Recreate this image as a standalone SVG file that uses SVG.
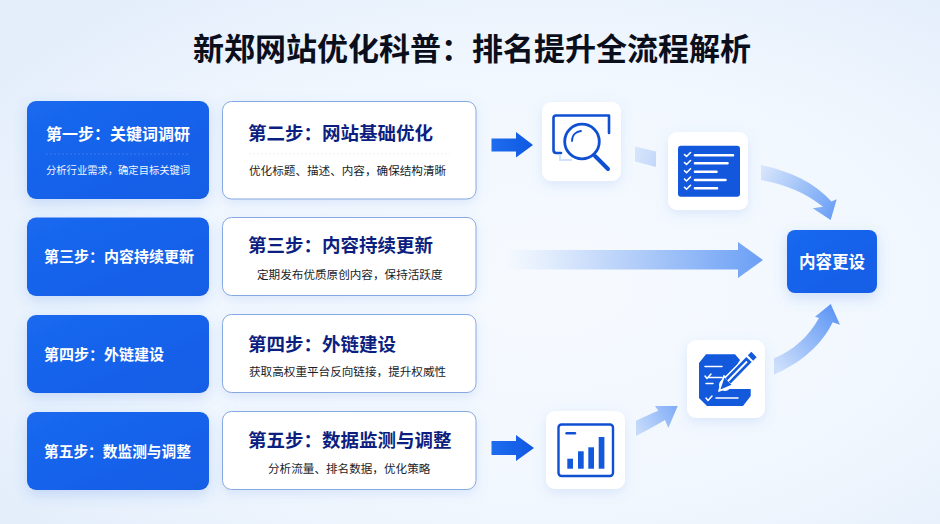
<svg xmlns="http://www.w3.org/2000/svg" width="940" height="524" viewBox="0 0 940 524">
<style>
text{font-family:"Noto Sans CJK SC","Noto Sans",sans-serif}
.title{font-size:31px;font-weight:700;fill:#0b0f1c}
.bt{font-weight:700;fill:#fff}
.bs{font-size:10.3px;fill:#f2f6ff}
.wt{font-size:18.5px;font-weight:700;fill:#0c1f80}
.ws{font-size:11.6px;fill:#1a1d28}
.blue{fill:url(#cardBlue);filter:url(#shBlue)}
.white{fill:#fff;stroke:#86a9e2;stroke-width:1;filter:url(#shSoft)}
.tile{fill:#fff;filter:url(#shSoft)}
.div{stroke-width:.7;stroke-dasharray:2 2;fill:none}
.ic{fill:none;stroke:#0f50d2;stroke-linecap:round;stroke-linejoin:round}
.wl{fill:none;stroke:#fff;stroke-linecap:round;stroke-linejoin:round}
</style>
<defs>
<radialGradient id="bg" cx="58%" cy="55%" r="70%"><stop offset="0" stop-color="#f6faff"/><stop offset=".6" stop-color="#f1f7fe"/><stop offset="1" stop-color="#e4eefb"/></radialGradient>
<linearGradient id="cardBlue" x1="0" y1="0" x2="1" y2="1"><stop offset="0" stop-color="#1a68ef"/><stop offset="1" stop-color="#145de6"/></linearGradient>
<linearGradient id="solid" x1="0" x2="1" y1="0" y2="0"><stop offset="0" stop-color="#1e6cf0"/><stop offset="1" stop-color="#0f59e0"/></linearGradient>
<linearGradient id="band" gradientUnits="userSpaceOnUse" x1="505" y1="260" x2="763" y2="260"><stop offset="0" stop-color="#d4e4fb" stop-opacity="0"/><stop offset=".3" stop-color="#cfe0fb"/><stop offset="1" stop-color="#6b9ff5"/></linearGradient>
<linearGradient id="g1" gradientUnits="userSpaceOnUse" x1="635" y1="155" x2="656" y2="160"><stop offset="0" stop-color="#d6e5fb"/><stop offset="1" stop-color="#c4d9fa"/></linearGradient>
<linearGradient id="g2" gradientUnits="userSpaceOnUse" x1="761" y1="172" x2="835" y2="215"><stop offset="0" stop-color="#d6e5fb"/><stop offset="1" stop-color="#6a9ff6"/></linearGradient>
<linearGradient id="g3" gradientUnits="userSpaceOnUse" x1="636" y1="428" x2="678" y2="406"><stop offset="0" stop-color="#c6dbfa"/><stop offset="1" stop-color="#7eabf7"/></linearGradient>
<linearGradient id="g4" gradientUnits="userSpaceOnUse" x1="774" y1="366" x2="835" y2="310"><stop offset="0" stop-color="#cfe0fb"/><stop offset="1" stop-color="#5f97f5"/></linearGradient>
<filter id="shBlue" x="-20%" y="-30%" width="140%" height="170%"><feDropShadow dx="0" dy="5" stdDeviation="7" flood-color="#3f7fe8" flood-opacity=".22"/></filter>
<filter id="shSoft" x="-20%" y="-30%" width="140%" height="170%"><feDropShadow dx="0" dy="4" stdDeviation="6" flood-color="#5f92e6" flood-opacity=".17"/></filter>
</defs>
<rect width="940" height="524" fill="url(#bg)"/>
<text id="title" class="title" x="193" y="59.5">新郑网站优化科普&#xFF1A;排名提升全流程解析</text>

<g id="connectors">
<polygon fill="url(#solid)" points="491.5,138.5 516,138.5 516,132 533,145 516,157.5 516,151.5 491.5,151.5"/>
<polygon fill="url(#solid)" points="491.5,441 516,441 516,435 534,448 516,461 516,455 491.5,455"/>
<polygon fill="url(#band)" points="505,250 738,250 738,242 763,260 738,278 738,269.500 505,269.500"/>
<polygon fill="url(#g1)" points="635,146.500 656,151.500 656,167 635,161.500"/>
<path fill="url(#g2)" d="M761 165C790 171 815 183 831.500 201.500L836.700 199.300L830.700 220L812.700 208.300L823 206.700C806 193 785 184 761 180Z"/>
<path fill="url(#g3)" d="M636 420.700C644 417 651 413.500 658.300 410.700L655 406L677.700 406L668.300 428L665 420C656 425 646 431 636 436Z"/>
<path fill="url(#g4)" d="M774 358.300C794 350 809 336 819 318L815 316.700L830.700 304L840 324.700L832.700 322.300C820 348 798 364 774 374.700Z"/>
</g>

<g id="step1-left"><rect class="blue" x="27" y="101" width="182" height="98" rx="9"/>
<text class="bt" font-size="16" x="46" y="139.500">第一步&#xFF1A;关键词调研</text>
<path class="div" stroke="#4d87f2" d="M46 154H190"/>
<text class="bs" x="46" y="174">分析行业需求&#xFF0C;确定目标关键词</text></g>
<g id="step2-card"><rect class="white" x="222.500" y="101.500" width="253.500" height="97.500" rx="9"/>
<text class="wt" x="248" y="139.500">第二步&#xFF1A;网站基础优化</text>
<path class="div" stroke="#e8eaef" d="M249 154H450"/>
<text class="ws" x="249" y="174.500">优化标题、描述、内容&#xFF0C;确保结构清晰</text></g>

<g id="step3-left"><rect class="blue" x="27" y="217.500" width="182" height="78.500" rx="9"/>
<text class="bt" font-size="15" x="44" y="262">第三步&#xFF1A;内容持续更新</text></g>
<g id="step3-card"><rect class="white" x="222.500" y="217.500" width="253.500" height="78" rx="9"/>
<text class="wt" x="248" y="252">第三步&#xFF1A;内容持续更新</text>
<text class="ws" x="257" y="278.500">定期发布优质原创内容&#xFF0C;保持活跃度</text></g>

<g id="step4-left"><rect class="blue" x="27" y="315" width="182" height="78" rx="9"/>
<text class="bt" font-size="15" x="44" y="359.500">第四步&#xFF1A;外链建设</text></g>
<g id="step4-card"><rect class="white" x="222.500" y="314.500" width="253.500" height="78" rx="9"/>
<text class="wt" x="248" y="350.500">第四步&#xFF1A;外链建设</text>
<text class="ws" x="249" y="376">获取高权重平台反向链接&#xFF0C;提升权威性</text></g>

<g id="step5-left"><rect class="blue" x="27" y="412" width="182" height="78" rx="9"/>
<text class="bt" font-size="14.700" x="44" y="456.500">第五步&#xFF1A;数监测与调整</text></g>
<g id="step5-card"><rect class="white" x="222.500" y="411.500" width="253.500" height="78" rx="9"/>
<text class="wt" x="248" y="447">第五步&#xFF1A;数据监测与调整</text>
<text class="ws" x="268" y="472.500">分析流量、排名数据&#xFF0C;优化策略</text></g>

<g id="icon-search"><rect class="tile" x="542" y="102" width="79" height="79" rx="9"/>
<path class="ic" stroke-width="2.600" d="M609 133V115.500H556Q553.500 115.500 553.500 118V150Q553.500 153 556.500 153H561"/>
<path fill="none" stroke="#d3e2fa" stroke-width="2" d="M560 155V160H572"/>
<circle cx="582" cy="141.500" r="17.300" fill="#fff" stroke="#0f50d2" stroke-width="2.800"/>
<path class="ic" stroke-width="1.800" d="M572 141C572 135 576 131.500 581 131"/>
<path class="ic" stroke-width="4" d="M595 156L608 169"/></g>

<g id="icon-list"><rect class="tile" x="668" y="132" width="80" height="78" rx="9"/>
<rect x="678" y="145.700" width="62" height="51" rx="3" fill="#1257dc"/>
<g class="wl" stroke-width="2.600"><path d="M695 155.300H733M695 163.300H727.500M695 171.700H716.500M695 180H725.500M695 188.300H717"/></g>
<g class="wl" stroke-width="1.600"><path d="M684.500 154.500L686.500 156.500L690.500 152.500M684.500 162.500L686.500 164.500L690.500 160.500M684.500 170.700L686.500 172.700L690.500 168.700M684.500 179L686.500 181L690.500 177M684.500 187.300L686.500 189.300L690.500 185.300"/></g></g>

<g id="output"><rect class="blue" x="787" y="230" width="90" height="63" rx="8"/>
<text class="bt" font-size="16.500" x="799" y="267.500">内容更设</text></g>

<g id="icon-chart"><rect class="tile" x="546" y="411" width="79" height="78" rx="9"/>
<rect x="558.500" y="424.500" width="54.500" height="51.500" rx="3" fill="none" stroke="#0f50d2" stroke-width="2.400"/>
<path class="ic" stroke-width="2.400" d="M566.500 433.300H575"/>
<g fill="#1259dc"><rect x="567.300" y="458.700" width="5.700" height="10"/><rect x="578" y="451.300" width="5.700" height="17.400"/><rect x="588.300" y="447.300" width="5.700" height="21.400"/><rect x="598.700" y="437" width="5.700" height="31.700"/></g></g>

<g id="icon-edit"><rect class="tile" x="687" y="340" width="78" height="78" rx="9"/>
<path fill="#1259dc" d="M706 354.300H735L740 360L722 389H750.700V396L743 406H707L699 398V363Z"/>
<g class="wl" stroke-width="1.500"><path d="M705 366.500H722M709 377.500H722M706 383.500H713M716 398H738"/><path d="M705 376L707 378.500L711 374M706 398L708 400.500L712 396"/></g>
<path class="wl" stroke-width="12" d="M725 385L750 360"/>
<path d="M719 391L724 376L733 385Z" fill="#1259dc" stroke="#fff" stroke-width="1.800" stroke-linejoin="round"/>
<path fill="none" stroke="#1259dc" stroke-width="7.500" d="M728 381L749 359.500"/>
<path fill="none" stroke="#fff" stroke-width="1.800" d="M728 381L747 361.500"/>
<path fill="none" stroke="#1259dc" stroke-width="7.500" d="M750.500 358L754 354.500"/></g>
</svg>
